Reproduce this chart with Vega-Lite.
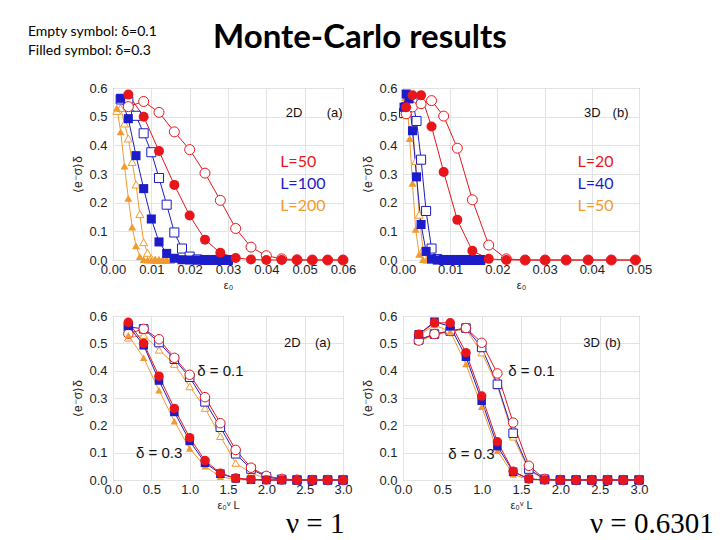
{
"$schema":"https://vega.github.io/schema/vega-lite/v6.json",
"autosize":{"type":"none"},
"padding":{"left":113,"top":88,"right":607,"bottom":452},
"background":"white",
"columns":2,
"spacing":{"row":56,"column":60},
"bounds":"flush",
"align":"each",
"datasets":{
"mc":[
{"d":"2D","L":200,"delta":0.1,"X":0.2,"eps":0.001,"v":0.52},
{"d":"2D","L":200,"delta":0.1,"X":0.4,"eps":0.002,"v":0.53},
{"d":"2D","L":200,"delta":0.1,"X":0.6,"eps":0.003,"v":0.476},
{"d":"2D","L":200,"delta":0.1,"X":0.8,"eps":0.004,"v":0.424},
{"d":"2D","L":200,"delta":0.1,"X":1.0,"eps":0.005,"v":0.342},
{"d":"2D","L":200,"delta":0.1,"X":1.2,"eps":0.006,"v":0.263},
{"d":"2D","L":200,"delta":0.1,"X":1.4,"eps":0.007,"v":0.16},
{"d":"2D","L":200,"delta":0.1,"X":1.6,"eps":0.008,"v":0.062},
{"d":"2D","L":200,"delta":0.1,"X":1.8,"eps":0.009,"v":0.025},
{"d":"2D","L":200,"delta":0.1,"X":2.0,"eps":0.010,"v":0.006},
{"d":"2D","L":200,"delta":0.1,"X":2.2,"eps":0.011,"v":0.001},
{"d":"2D","L":200,"delta":0.1,"X":2.4,"eps":0.012,"v":0},
{"d":"2D","L":200,"delta":0.1,"X":2.6,"eps":0.013,"v":0},
{"d":"2D","L":200,"delta":0.1,"X":2.8,"eps":0.014,"v":0},
{"d":"2D","L":200,"delta":0.1,"X":3.0,"eps":0.015,"v":0},
{"d":"2D","L":100,"delta":0.1,"X":0.2,"eps":0.002,"v":0.56},
{"d":"2D","L":100,"delta":0.1,"X":0.4,"eps":0.004,"v":0.553},
{"d":"2D","L":100,"delta":0.1,"X":0.6,"eps":0.006,"v":0.503},
{"d":"2D","L":100,"delta":0.1,"X":0.8,"eps":0.008,"v":0.442},
{"d":"2D","L":100,"delta":0.1,"X":1.0,"eps":0.010,"v":0.376},
{"d":"2D","L":100,"delta":0.1,"X":1.2,"eps":0.012,"v":0.286},
{"d":"2D","L":100,"delta":0.1,"X":1.4,"eps":0.014,"v":0.193},
{"d":"2D","L":100,"delta":0.1,"X":1.6,"eps":0.016,"v":0.096},
{"d":"2D","L":100,"delta":0.1,"X":1.8,"eps":0.018,"v":0.04},
{"d":"2D","L":100,"delta":0.1,"X":2.0,"eps":0.020,"v":0.012},
{"d":"2D","L":100,"delta":0.1,"X":2.2,"eps":0.022,"v":0.002},
{"d":"2D","L":100,"delta":0.1,"X":2.4,"eps":0.024,"v":0},
{"d":"2D","L":100,"delta":0.1,"X":2.6,"eps":0.026,"v":0},
{"d":"2D","L":100,"delta":0.1,"X":2.8,"eps":0.028,"v":0},
{"d":"2D","L":100,"delta":0.1,"X":3.0,"eps":0.030,"v":0},
{"d":"2D","L":50,"delta":0.1,"X":0.2,"eps":0.004,"v":0.535},
{"d":"2D","L":50,"delta":0.1,"X":0.4,"eps":0.008,"v":0.553},
{"d":"2D","L":50,"delta":0.1,"X":0.6,"eps":0.012,"v":0.515},
{"d":"2D","L":50,"delta":0.1,"X":0.8,"eps":0.016,"v":0.447},
{"d":"2D","L":50,"delta":0.1,"X":1.0,"eps":0.020,"v":0.385},
{"d":"2D","L":50,"delta":0.1,"X":1.2,"eps":0.024,"v":0.303},
{"d":"2D","L":50,"delta":0.1,"X":1.4,"eps":0.028,"v":0.208},
{"d":"2D","L":50,"delta":0.1,"X":1.6,"eps":0.032,"v":0.11},
{"d":"2D","L":50,"delta":0.1,"X":1.8,"eps":0.036,"v":0.045},
{"d":"2D","L":50,"delta":0.1,"X":2.0,"eps":0.040,"v":0.015},
{"d":"2D","L":50,"delta":0.1,"X":2.2,"eps":0.044,"v":0.004},
{"d":"2D","L":50,"delta":0.1,"X":2.4,"eps":0.048,"v":0.001},
{"d":"2D","L":50,"delta":0.1,"X":2.6,"eps":0.052,"v":0},
{"d":"2D","L":50,"delta":0.1,"X":2.8,"eps":0.056,"v":0},
{"d":"2D","L":50,"delta":0.1,"X":3.0,"eps":0.060,"v":0},
{"d":"2D","L":200,"delta":0.3,"X":0.2,"eps":0.001,"v":0.53},
{"d":"2D","L":200,"delta":0.3,"X":0.4,"eps":0.002,"v":0.447},
{"d":"2D","L":200,"delta":0.3,"X":0.6,"eps":0.003,"v":0.328},
{"d":"2D","L":200,"delta":0.3,"X":0.8,"eps":0.004,"v":0.215},
{"d":"2D","L":200,"delta":0.3,"X":1.0,"eps":0.005,"v":0.115},
{"d":"2D","L":200,"delta":0.3,"X":1.2,"eps":0.006,"v":0.05},
{"d":"2D","L":200,"delta":0.3,"X":1.4,"eps":0.007,"v":0.012},
{"d":"2D","L":200,"delta":0.3,"X":1.6,"eps":0.008,"v":0.002},
{"d":"2D","L":200,"delta":0.3,"X":1.8,"eps":0.009,"v":0},
{"d":"2D","L":200,"delta":0.3,"X":2.0,"eps":0.010,"v":0},
{"d":"2D","L":200,"delta":0.3,"X":2.2,"eps":0.011,"v":0},
{"d":"2D","L":200,"delta":0.3,"X":2.4,"eps":0.012,"v":0},
{"d":"2D","L":200,"delta":0.3,"X":2.6,"eps":0.013,"v":0},
{"d":"2D","L":200,"delta":0.3,"X":2.8,"eps":0.014,"v":0},
{"d":"2D","L":200,"delta":0.3,"X":3.0,"eps":0.015,"v":0},
{"d":"2D","L":100,"delta":0.3,"X":0.2,"eps":0.002,"v":0.564},
{"d":"2D","L":100,"delta":0.3,"X":0.4,"eps":0.004,"v":0.493},
{"d":"2D","L":100,"delta":0.3,"X":0.6,"eps":0.006,"v":0.364},
{"d":"2D","L":100,"delta":0.3,"X":0.8,"eps":0.008,"v":0.249},
{"d":"2D","L":100,"delta":0.3,"X":1.0,"eps":0.010,"v":0.143},
{"d":"2D","L":100,"delta":0.3,"X":1.2,"eps":0.012,"v":0.063},
{"d":"2D","L":100,"delta":0.3,"X":1.4,"eps":0.014,"v":0.023},
{"d":"2D","L":100,"delta":0.3,"X":1.6,"eps":0.016,"v":0.006},
{"d":"2D","L":100,"delta":0.3,"X":1.8,"eps":0.018,"v":0.001},
{"d":"2D","L":100,"delta":0.3,"X":2.0,"eps":0.020,"v":0},
{"d":"2D","L":100,"delta":0.3,"X":2.2,"eps":0.022,"v":0},
{"d":"2D","L":100,"delta":0.3,"X":2.4,"eps":0.024,"v":0},
{"d":"2D","L":100,"delta":0.3,"X":2.6,"eps":0.026,"v":0},
{"d":"2D","L":100,"delta":0.3,"X":2.8,"eps":0.028,"v":0},
{"d":"2D","L":100,"delta":0.3,"X":3.0,"eps":0.030,"v":0},
{"d":"2D","L":50,"delta":0.3,"X":0.2,"eps":0.004,"v":0.577},
{"d":"2D","L":50,"delta":0.3,"X":0.4,"eps":0.008,"v":0.5},
{"d":"2D","L":50,"delta":0.3,"X":0.6,"eps":0.012,"v":0.38},
{"d":"2D","L":50,"delta":0.3,"X":0.8,"eps":0.016,"v":0.262},
{"d":"2D","L":50,"delta":0.3,"X":1.0,"eps":0.020,"v":0.155},
{"d":"2D","L":50,"delta":0.3,"X":1.2,"eps":0.024,"v":0.071},
{"d":"2D","L":50,"delta":0.3,"X":1.4,"eps":0.028,"v":0.025},
{"d":"2D","L":50,"delta":0.3,"X":1.6,"eps":0.032,"v":0.007},
{"d":"2D","L":50,"delta":0.3,"X":1.8,"eps":0.036,"v":0.002},
{"d":"2D","L":50,"delta":0.3,"X":2.0,"eps":0.040,"v":0},
{"d":"2D","L":50,"delta":0.3,"X":2.2,"eps":0.044,"v":0},
{"d":"2D","L":50,"delta":0.3,"X":2.4,"eps":0.048,"v":0},
{"d":"2D","L":50,"delta":0.3,"X":2.6,"eps":0.052,"v":0},
{"d":"2D","L":50,"delta":0.3,"X":2.8,"eps":0.056,"v":0},
{"d":"2D","L":50,"delta":0.3,"X":3.0,"eps":0.060,"v":0},
{"d":"3D","L":50,"delta":0.1,"X":0.2,"eps":0.000156,"v":0.508},
{"d":"3D","L":50,"delta":0.1,"X":0.4,"eps":0.00047,"v":0.53},
{"d":"3D","L":50,"delta":0.1,"X":0.6,"eps":0.000895,"v":0.543},
{"d":"3D","L":50,"delta":0.1,"X":0.8,"eps":0.001412,"v":0.552},
{"d":"3D","L":50,"delta":0.1,"X":1.0,"eps":0.00201,"v":0.466},
{"d":"3D","L":50,"delta":0.1,"X":1.2,"eps":0.002687,"v":0.345},
{"d":"3D","L":50,"delta":0.1,"X":1.4,"eps":0.003432,"v":0.158},
{"d":"3D","L":50,"delta":0.1,"X":1.6,"eps":0.004242,"v":0.035},
{"d":"3D","L":50,"delta":0.1,"X":1.8,"eps":0.005114,"v":0.002},
{"d":"3D","L":50,"delta":0.1,"X":2.0,"eps":0.00605,"v":0},
{"d":"3D","L":50,"delta":0.1,"X":2.2,"eps":0.007032,"v":0},
{"d":"3D","L":50,"delta":0.1,"X":2.4,"eps":0.008074,"v":0},
{"d":"3D","L":50,"delta":0.1,"X":2.6,"eps":0.009167,"v":0},
{"d":"3D","L":50,"delta":0.1,"X":2.8,"eps":0.010311,"v":0},
{"d":"3D","L":50,"delta":0.1,"X":3.0,"eps":0.011505,"v":0},
{"d":"3D","L":40,"delta":0.1,"X":0.2,"eps":0.000223,"v":0.513},
{"d":"3D","L":40,"delta":0.1,"X":0.4,"eps":0.00067,"v":0.534},
{"d":"3D","L":40,"delta":0.1,"X":0.6,"eps":0.001275,"v":0.545},
{"d":"3D","L":40,"delta":0.1,"X":0.8,"eps":0.00201,"v":0.556},
{"d":"3D","L":40,"delta":0.1,"X":1.0,"eps":0.002867,"v":0.485},
{"d":"3D","L":40,"delta":0.1,"X":1.2,"eps":0.003829,"v":0.35},
{"d":"3D","L":40,"delta":0.1,"X":1.4,"eps":0.004891,"v":0.171},
{"d":"3D","L":40,"delta":0.1,"X":1.6,"eps":0.006045,"v":0.04},
{"d":"3D","L":40,"delta":0.1,"X":1.8,"eps":0.007288,"v":0.003},
{"d":"3D","L":40,"delta":0.1,"X":2.0,"eps":0.008614,"v":0},
{"d":"3D","L":40,"delta":0.1,"X":2.2,"eps":0.010021,"v":0},
{"d":"3D","L":40,"delta":0.1,"X":2.4,"eps":0.011505,"v":0},
{"d":"3D","L":40,"delta":0.1,"X":2.6,"eps":0.013063,"v":0},
{"d":"3D","L":40,"delta":0.1,"X":2.8,"eps":0.014693,"v":0},
{"d":"3D","L":40,"delta":0.1,"X":3.0,"eps":0.016393,"v":0},
{"d":"3D","L":20,"delta":0.1,"X":0.2,"eps":0.00067,"v":0.51},
{"d":"3D","L":20,"delta":0.1,"X":0.4,"eps":0.002012,"v":0.534},
{"d":"3D","L":20,"delta":0.1,"X":0.6,"eps":0.003829,"v":0.545},
{"d":"3D","L":20,"delta":0.1,"X":0.8,"eps":0.006045,"v":0.556},
{"d":"3D","L":20,"delta":0.1,"X":1.0,"eps":0.008614,"v":0.502},
{"d":"3D","L":20,"delta":0.1,"X":1.2,"eps":0.011505,"v":0.39},
{"d":"3D","L":20,"delta":0.1,"X":1.4,"eps":0.014693,"v":0.21},
{"d":"3D","L":20,"delta":0.1,"X":1.6,"eps":0.018161,"v":0.052},
{"d":"3D","L":20,"delta":0.1,"X":1.8,"eps":0.021894,"v":0.004},
{"d":"3D","L":20,"delta":0.1,"X":2.0,"eps":0.025879,"v":0},
{"d":"3D","L":20,"delta":0.1,"X":2.2,"eps":0.030105,"v":0},
{"d":"3D","L":20,"delta":0.1,"X":2.4,"eps":0.034564,"v":0},
{"d":"3D","L":20,"delta":0.1,"X":2.6,"eps":0.039245,"v":0},
{"d":"3D","L":20,"delta":0.1,"X":2.8,"eps":0.044143,"v":0},
{"d":"3D","L":20,"delta":0.1,"X":3.0,"eps":0.049251,"v":0},
{"d":"3D","L":50,"delta":0.3,"X":0.2,"eps":0.000156,"v":0.528},
{"d":"3D","L":50,"delta":0.3,"X":0.4,"eps":0.00047,"v":0.567},
{"d":"3D","L":50,"delta":0.3,"X":0.6,"eps":0.000895,"v":0.543},
{"d":"3D","L":50,"delta":0.3,"X":0.8,"eps":0.001412,"v":0.424},
{"d":"3D","L":50,"delta":0.3,"X":1.0,"eps":0.00201,"v":0.268},
{"d":"3D","L":50,"delta":0.3,"X":1.2,"eps":0.002687,"v":0.107},
{"d":"3D","L":50,"delta":0.3,"X":1.4,"eps":0.003432,"v":0.02},
{"d":"3D","L":50,"delta":0.3,"X":1.6,"eps":0.004242,"v":0.002},
{"d":"3D","L":50,"delta":0.3,"X":1.8,"eps":0.005114,"v":0},
{"d":"3D","L":50,"delta":0.3,"X":2.0,"eps":0.00605,"v":0},
{"d":"3D","L":50,"delta":0.3,"X":2.2,"eps":0.007032,"v":0},
{"d":"3D","L":50,"delta":0.3,"X":2.4,"eps":0.008074,"v":0},
{"d":"3D","L":50,"delta":0.3,"X":2.6,"eps":0.009167,"v":0},
{"d":"3D","L":50,"delta":0.3,"X":2.8,"eps":0.010311,"v":0},
{"d":"3D","L":50,"delta":0.3,"X":3.0,"eps":0.011505,"v":0},
{"d":"3D","L":40,"delta":0.3,"X":0.2,"eps":0.000223,"v":0.533},
{"d":"3D","L":40,"delta":0.3,"X":0.4,"eps":0.00067,"v":0.579},
{"d":"3D","L":40,"delta":0.3,"X":0.6,"eps":0.001275,"v":0.562},
{"d":"3D","L":40,"delta":0.3,"X":0.8,"eps":0.00201,"v":0.451},
{"d":"3D","L":40,"delta":0.3,"X":1.0,"eps":0.002867,"v":0.29},
{"d":"3D","L":40,"delta":0.3,"X":1.2,"eps":0.003829,"v":0.124},
{"d":"3D","L":40,"delta":0.3,"X":1.4,"eps":0.004891,"v":0.03},
{"d":"3D","L":40,"delta":0.3,"X":1.6,"eps":0.006045,"v":0.004},
{"d":"3D","L":40,"delta":0.3,"X":1.8,"eps":0.007288,"v":0},
{"d":"3D","L":40,"delta":0.3,"X":2.0,"eps":0.008614,"v":0},
{"d":"3D","L":40,"delta":0.3,"X":2.2,"eps":0.010021,"v":0},
{"d":"3D","L":40,"delta":0.3,"X":2.4,"eps":0.011505,"v":0},
{"d":"3D","L":40,"delta":0.3,"X":2.6,"eps":0.013063,"v":0},
{"d":"3D","L":40,"delta":0.3,"X":2.8,"eps":0.014693,"v":0},
{"d":"3D","L":40,"delta":0.3,"X":3.0,"eps":0.016393,"v":0},
{"d":"3D","L":20,"delta":0.3,"X":0.2,"eps":0.00067,"v":0.533},
{"d":"3D","L":20,"delta":0.3,"X":0.4,"eps":0.002012,"v":0.575},
{"d":"3D","L":20,"delta":0.3,"X":0.6,"eps":0.003829,"v":0.575},
{"d":"3D","L":20,"delta":0.3,"X":0.8,"eps":0.006045,"v":0.466},
{"d":"3D","L":20,"delta":0.3,"X":1.0,"eps":0.008614,"v":0.307},
{"d":"3D","L":20,"delta":0.3,"X":1.2,"eps":0.011505,"v":0.14},
{"d":"3D","L":20,"delta":0.3,"X":1.4,"eps":0.014693,"v":0.032},
{"d":"3D","L":20,"delta":0.3,"X":1.6,"eps":0.018161,"v":0.004},
{"d":"3D","L":20,"delta":0.3,"X":1.8,"eps":0.021894,"v":0},
{"d":"3D","L":20,"delta":0.3,"X":2.0,"eps":0.025879,"v":0},
{"d":"3D","L":20,"delta":0.3,"X":2.2,"eps":0.030105,"v":0},
{"d":"3D","L":20,"delta":0.3,"X":2.4,"eps":0.034564,"v":0},
{"d":"3D","L":20,"delta":0.3,"X":2.6,"eps":0.039245,"v":0},
{"d":"3D","L":20,"delta":0.3,"X":2.8,"eps":0.044143,"v":0},
{"d":"3D","L":20,"delta":0.3,"X":3.0,"eps":0.049251,"v":0}
]},
"concat":[
{"width":230,"height":172,
"encoding":{
"x":{"field":"eps","type":"quantitative","title":"ε₀","scale":{"domain":[0,0.06],"nice":false,"zero":false},"axis":{"values":[0,0.01,0.02,0.03,0.04,0.05,0.06],"format":".2f"}},
"y":{"field":"v","type":"quantitative","title":"⟨e⁻σ⟩δ","scale":{"domain":[0,0.6],"nice":false},"axis":{"values":[0,0.1,0.2,0.3,0.4,0.5,0.6],"format":".1f"}}},
"layer":[
{"data":{"name":"mc"},"transform":[{"filter":"datum.d==='2D'"}],
"mark":{"type":"line","strokeWidth":1},
"encoding":{
"color":{"field":"L","type":"nominal","scale":{"domain":[50,100,200],"range":["#e8161b","#1c1cc8","#f39a2e"]},"legend":null},
"detail":{"field":"delta","type":"nominal"},
"order":{"field":"X","type":"quantitative"}}},
{"data":{"name":"mc"},"transform":[{"filter":"datum.d==='2D' && datum.delta===0.1"}],
"mark":{"type":"point","filled":false,"fill":"white","fillOpacity":1,"strokeWidth":1,"opacity":1},
"encoding":{
"stroke":{"field":"L","type":"nominal","scale":{"domain":[50,100,200],"range":["#e8161b","#1c1cc8","#f39a2e"]},"legend":null},
"shape":{"field":"L","type":"nominal","scale":{"domain":[50,100,200],"range":["circle","square","triangle-up"]},"legend":null},
"size":{"field":"L","type":"nominal","scale":{"domain":[50,100,200],"range":[100,64,80]},"legend":null}}},
{"data":{"name":"mc"},"transform":[{"filter":"datum.d==='2D' && datum.delta===0.3"}],
"mark":{"type":"point","filled":true,"opacity":1},
"encoding":{
"color":{"field":"L","type":"nominal","scale":{"domain":[50,100,200],"range":["#e8161b","#1c1cc8","#f39a2e"]},"legend":null},
"shape":{"field":"L","type":"nominal","scale":{"domain":[50,100,200],"range":["circle","square","triangle-up"]},"legend":null},
"size":{"field":"L","type":"nominal","scale":{"domain":[50,100,200],"range":[100,64,80]},"legend":null}}},
{"data":{"values":[{"eps":0.0436,"v":0.343,"L":50,"label":"L=50"},{"eps":0.0436,"v":0.264,"L":100,"label":"L=100"},{"eps":0.0436,"v":0.188,"L":200,"label":"L=200"}]},
"mark":{"type":"text","align":"left","baseline":"middle","font":"Lato","fontSize":16},
"encoding":{
"color":{"field":"L","type":"nominal","scale":{"domain":[50,100,200],"range":["#e8161b","#1c1cc8","#f39a2e"]},"legend":null},
"text":{"field":"label"}}},
{"data":{"values":[{"eps":0.04505,"v":0.512,"label":"2D"},{"eps":0.05575,"v":0.512,"label":"(a)"}]},
"mark":{"type":"text","align":"left","baseline":"middle","font":"Liberation Sans","fontSize":13,"color":"#111"},
"encoding":{"text":{"field":"label"}}},
{"data":{"values":[{"eps":-0.0222,"v":0.781,"label":"Empty symbol: δ=0.1"},{"eps":-0.0222,"v":0.715,"label":"Filled symbol: δ=0.3"}]},
"mark":{"type":"text","align":"left","baseline":"alphabetic","font":"Lato","fontSize":14,"color":"#000"},
"encoding":{"text":{"field":"label"}}},
{"data":{"values":[{"eps":0.0261,"v":0.7395,"label":"Monte-Carlo results"}]},
"mark":{"type":"text","align":"left","baseline":"alphabetic","font":"Lato","fontSize":33,"fontWeight":"bold","color":"#000"},
"encoding":{"text":{"field":"label"}}}
]},
{"width":236,"height":172,
"encoding":{
"x":{"field":"eps","type":"quantitative","title":"ε₀","scale":{"domain":[0,0.05],"nice":false,"zero":false},"axis":{"values":[0,0.01,0.02,0.03,0.04,0.05],"format":".2f"}},
"y":{"field":"v","type":"quantitative","title":"⟨e⁻σ⟩δ","scale":{"domain":[0,0.6],"nice":false},"axis":{"values":[0,0.1,0.2,0.3,0.4,0.5,0.6],"format":".1f"}}},
"layer":[
{"data":{"name":"mc"},"transform":[{"filter":"datum.d==='3D'"}],
"mark":{"type":"line","strokeWidth":1},
"encoding":{
"color":{"field":"L","type":"nominal","scale":{"domain":[20,40,50],"range":["#e8161b","#1c1cc8","#f39a2e"]},"legend":null},
"detail":{"field":"delta","type":"nominal"},
"order":{"field":"X","type":"quantitative"}}},
{"data":{"name":"mc"},"transform":[{"filter":"datum.d==='3D' && datum.delta===0.1"}],
"mark":{"type":"point","filled":false,"fill":"white","fillOpacity":1,"strokeWidth":1,"opacity":1},
"encoding":{
"stroke":{"field":"L","type":"nominal","scale":{"domain":[20,40,50],"range":["#e8161b","#1c1cc8","#f39a2e"]},"legend":null},
"shape":{"field":"L","type":"nominal","scale":{"domain":[20,40,50],"range":["circle","square","triangle-up"]},"legend":null},
"size":{"field":"L","type":"nominal","scale":{"domain":[20,40,50],"range":[100,64,80]},"legend":null}}},
{"data":{"name":"mc"},"transform":[{"filter":"datum.d==='3D' && datum.delta===0.3"}],
"mark":{"type":"point","filled":true,"opacity":1},
"encoding":{
"color":{"field":"L","type":"nominal","scale":{"domain":[20,40,50],"range":["#e8161b","#1c1cc8","#f39a2e"]},"legend":null},
"shape":{"field":"L","type":"nominal","scale":{"domain":[20,40,50],"range":["circle","square","triangle-up"]},"legend":null},
"size":{"field":"L","type":"nominal","scale":{"domain":[20,40,50],"range":[100,64,80]},"legend":null}}},
{"data":{"values":[{"eps":0.03696,"v":0.341,"L":20,"label":"L=20"},{"eps":0.03696,"v":0.264,"L":40,"label":"L=40"},{"eps":0.03696,"v":0.188,"L":50,"label":"L=50"}]},
"mark":{"type":"text","align":"left","baseline":"middle","font":"Lato","fontSize":16},
"encoding":{
"color":{"field":"L","type":"nominal","scale":{"domain":[20,40,50],"range":["#e8161b","#1c1cc8","#f39a2e"]},"legend":null},
"text":{"field":"label"}}},
{"data":{"values":[{"eps":0.03837,"v":0.512,"label":"3D"},{"eps":0.0444,"v":0.512,"label":"(b)"}]},
"mark":{"type":"text","align":"left","baseline":"middle","font":"Liberation Sans","fontSize":13,"color":"#111"},
"encoding":{"text":{"field":"label"}}}
]},
{"width":230,"height":164,
"encoding":{
"x":{"field":"X","type":"quantitative","title":"ε₀ᵛ L","scale":{"domain":[0,3],"nice":false,"zero":false},"axis":{"values":[0,0.5,1,1.5,2,2.5,3],"format":".1f"}},
"y":{"field":"v","type":"quantitative","title":"⟨e⁻σ⟩δ","scale":{"domain":[0,0.6],"nice":false},"axis":{"values":[0,0.1,0.2,0.3,0.4,0.5,0.6],"format":".1f"}}},
"layer":[
{"data":{"name":"mc"},"transform":[{"filter":"datum.d==='2D'"}],
"mark":{"type":"line","strokeWidth":1},
"encoding":{
"color":{"field":"L","type":"nominal","scale":{"domain":[50,100,200],"range":["#e8161b","#1c1cc8","#f39a2e"]},"legend":null},
"detail":{"field":"delta","type":"nominal"},
"order":{"field":"X","type":"quantitative"}}},
{"data":{"name":"mc"},"transform":[{"filter":"datum.d==='2D' && datum.delta===0.1"}],
"mark":{"type":"point","filled":false,"fill":"white","fillOpacity":1,"strokeWidth":1,"opacity":1},
"encoding":{
"stroke":{"field":"L","type":"nominal","scale":{"domain":[50,100,200],"range":["#e8161b","#1c1cc8","#f39a2e"]},"legend":null},
"shape":{"field":"L","type":"nominal","scale":{"domain":[50,100,200],"range":["circle","square","triangle-up"]},"legend":null},
"size":{"field":"L","type":"nominal","scale":{"domain":[50,100,200],"range":[90,56,70]},"legend":null}}},
{"data":{"name":"mc"},"transform":[{"filter":"datum.d==='2D' && datum.delta===0.3"}],
"mark":{"type":"point","filled":true,"opacity":1},
"encoding":{
"color":{"field":"L","type":"nominal","scale":{"domain":[50,100,200],"range":["#e8161b","#1c1cc8","#f39a2e"]},"legend":null},
"shape":{"field":"L","type":"nominal","scale":{"domain":[50,100,200],"range":["circle","square","triangle-up"]},"legend":null},
"size":{"field":"L","type":"nominal","scale":{"domain":[50,100,200],"range":[90,56,70]},"legend":null}}},
{"data":{"values":[{"X":2.23,"v":0.5,"label":"2D"},{"X":2.635,"v":0.5,"label":"(a)"}]},
"mark":{"type":"text","align":"left","baseline":"middle","font":"Liberation Sans","fontSize":13,"color":"#111"},
"encoding":{"text":{"field":"label"}}},
{"data":{"values":[{"X":1.1,"v":0.4,"label":"δ = 0.1"},{"X":0.3,"v":0.0976,"label":"δ = 0.3"}]},
"mark":{"type":"text","align":"left","baseline":"middle","font":"Liberation Sans","fontSize":15,"color":"#111"},
"encoding":{"text":{"field":"label"}}},
{"data":{"values":[{"X":2.256,"v":-0.194,"label":"ν = 1"}]},
"mark":{"type":"text","align":"left","baseline":"alphabetic","font":"Liberation Serif","fontSize":29,"color":"#000"},
"encoding":{"text":{"field":"label"}}}
]},
{"width":236,"height":164,
"encoding":{
"x":{"field":"X","type":"quantitative","title":"ε₀ᵛ L","scale":{"domain":[0,3],"nice":false,"zero":false},"axis":{"values":[0,0.5,1,1.5,2,2.5,3],"format":".1f"}},
"y":{"field":"v","type":"quantitative","title":"⟨e⁻σ⟩δ","scale":{"domain":[0,0.6],"nice":false},"axis":{"values":[0,0.1,0.2,0.3,0.4,0.5,0.6],"format":".1f"}}},
"layer":[
{"data":{"name":"mc"},"transform":[{"filter":"datum.d==='3D'"}],
"mark":{"type":"line","strokeWidth":1},
"encoding":{
"color":{"field":"L","type":"nominal","scale":{"domain":[20,40,50],"range":["#e8161b","#1c1cc8","#f39a2e"]},"legend":null},
"detail":{"field":"delta","type":"nominal"},
"order":{"field":"X","type":"quantitative"}}},
{"data":{"name":"mc"},"transform":[{"filter":"datum.d==='3D' && datum.delta===0.1"}],
"mark":{"type":"point","filled":false,"fill":"white","fillOpacity":1,"strokeWidth":1,"opacity":1},
"encoding":{
"stroke":{"field":"L","type":"nominal","scale":{"domain":[20,40,50],"range":["#e8161b","#1c1cc8","#f39a2e"]},"legend":null},
"shape":{"field":"L","type":"nominal","scale":{"domain":[20,40,50],"range":["circle","square","triangle-up"]},"legend":null},
"size":{"field":"L","type":"nominal","scale":{"domain":[20,40,50],"range":[90,56,70]},"legend":null}}},
{"data":{"name":"mc"},"transform":[{"filter":"datum.d==='3D' && datum.delta===0.3"}],
"mark":{"type":"point","filled":true,"opacity":1},
"encoding":{
"color":{"field":"L","type":"nominal","scale":{"domain":[20,40,50],"range":["#e8161b","#1c1cc8","#f39a2e"]},"legend":null},
"shape":{"field":"L","type":"nominal","scale":{"domain":[20,40,50],"range":["circle","square","triangle-up"]},"legend":null},
"size":{"field":"L","type":"nominal","scale":{"domain":[20,40,50],"range":[90,56,70]},"legend":null}}},
{"data":{"values":[{"X":2.292,"v":0.5,"label":"3D"},{"X":2.568,"v":0.5,"label":"(b)"}]},
"mark":{"type":"text","align":"left","baseline":"middle","font":"Liberation Sans","fontSize":13,"color":"#111"},
"encoding":{"text":{"field":"label"}}},
{"data":{"values":[{"X":1.339,"v":0.399,"label":"δ = 0.1"},{"X":0.576,"v":0.095,"label":"δ = 0.3"}]},
"mark":{"type":"text","align":"left","baseline":"middle","font":"Liberation Sans","fontSize":15,"color":"#111"},
"encoding":{"text":{"field":"label"}}},
{"data":{"values":[{"X":2.377,"v":-0.194,"label":"ν = 0.6301"}]},
"mark":{"type":"text","align":"left","baseline":"alphabetic","font":"Liberation Serif","fontSize":29,"color":"#000"},
"encoding":{"text":{"field":"label"}}}
]}
],
"resolve":{"scale":{"color":"independent","stroke":"independent","shape":"independent","size":"independent"}},
"config":{
"view":{"stroke":"#8a8a8a","strokeWidth":1},
"axis":{"labelFont":"Liberation Sans","labelFontSize":13,"labelColor":"#222","titleFont":"Liberation Sans","titleFontSize":11,"titleFontWeight":"normal","titleColor":"#222","gridColor":"#e3e3e3","domain":false,"ticks":false,"labelFlush":false,"labelOverlap":false},
"axisX":{"labelPadding":3,"titlePadding":3},
"axisY":{"labelPadding":6,"titlePadding":4,"titleFontSize":12}
}
}
